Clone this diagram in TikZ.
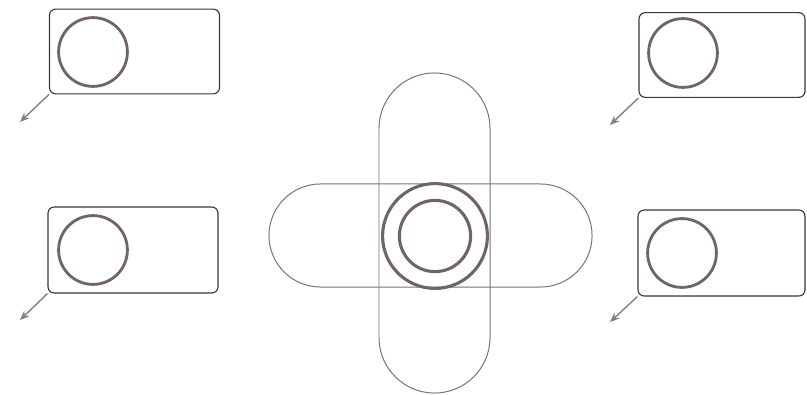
\documentclass[tikz,border=0pt]{standalone}
\usepackage{tikz}
\usetikzlibrary{arrows.meta,shapes.misc}
\definecolor{ringgray}{RGB}{112,100,100}
\tikzset{
  bx/.style={rectangle,rounded corners=4.5pt,draw=black!78,fill=none,line width=.8pt,
    minimum width=4.25cm,minimum height=2.12cm,inner sep=0pt},
  rg/.style={circle,draw=ringgray,line width=2pt,minimum size=1.72cm,inner sep=0pt},
  rgo/.style={circle,draw=ringgray,line width=2.2pt,minimum size=2.62cm,inner sep=0pt},
  rgi/.style={circle,draw=ringgray,line width=2.2pt,minimum size=1.78cm,inner sep=0pt},
  pil/.style={rounded rectangle,draw=black!55,line width=.7pt,inner sep=0pt},
  outarr/.style={-{Stealth[length=2.4mm,width=1.9mm]},line width=1pt,draw=black!50},
}
\begin{document}
\begin{tikzpicture}[x=0.025cm,y=-0.025cm]
\useasboundingbox (0,0) rectangle (807,394);
% the cross in the middle
\node[pil,minimum width=8.075cm,minimum height=2.575cm] (ph) at (430.5,235.5) {};
\node[pil,rotate=90,minimum width=8cm,minimum height=2.775cm] (pv) at (434.5,233) {};
\node[rgo] (co) at (435,236) {};
\node[rgi] (ci) at (435,236) {};
% the four boxes
\node[bx] (b1) at (134.5,51.5) {};
\node[bx,minimum width=4.15cm] (b2) at (722,55) {};
\node[bx,minimum height=2.15cm] (b3) at (133,250) {};
\node[bx,minimum width=4.175cm,minimum height=2.15cm] (b4) at (721.5,253) {};
\node[rg] (r1) at (93,52) {};
\node[rg] (r2) at (683,53) {};
\node[rg] (r3) at (93,250) {};
\node[rg] (r4) at (682,253) {};
\coordinate (t1) at (20,122);
\coordinate (t2) at (610,125);
\coordinate (t3) at (20,320);
\coordinate (t4) at (610,322);
\draw[outarr] (b1.south west) -- (t1);
\draw[outarr] (b2.south west) -- (t2);
\draw[outarr] (b3.south west) -- (t3);
\draw[outarr] (b4.south west) -- (t4);
\end{tikzpicture}
\end{document}
